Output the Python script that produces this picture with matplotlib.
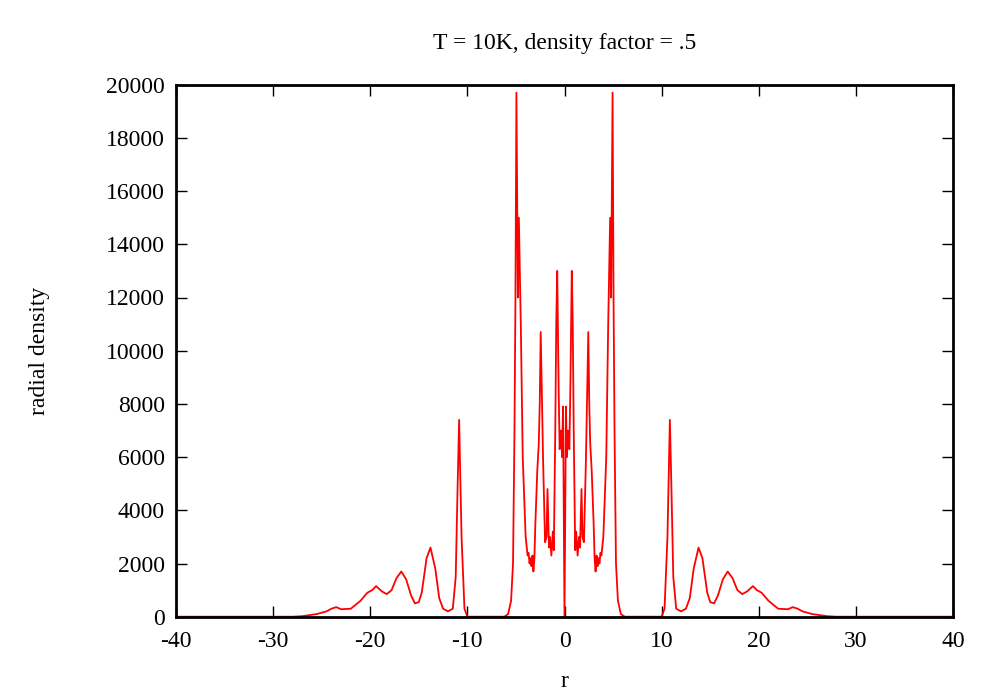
import numpy as np
import matplotlib
matplotlib.use("Agg")
import matplotlib.pyplot as plt

plt.rcParams['font.family'] = ['Liberation Serif', 'DejaVu Serif']
plt.rcParams['axes.unicode_minus'] = False

# right half of the symmetric radial density profile (r, density)
r_half = [0.0, 0.15, 0.25, 0.35, 0.5, 0.6, 0.75, 0.85, 0.95, 1.05, 1.1, 1.2, 1.35, 1.5, 1.6,
          1.75, 1.85, 2.0, 2.2, 2.3, 2.45, 2.55, 2.65, 2.8, 3.0, 3.1, 3.2, 3.3, 3.4, 3.5, 3.6,
          3.7, 3.8, 4.0, 4.3, 4.5, 4.7, 4.8, 4.95, 5.05, 5.15, 5.3, 5.5, 5.8, 6.2,
          10.0, 10.3, 10.6, 10.85, 11.0, 11.2, 11.5, 12.0, 12.5, 12.9, 13.3, 13.8, 14.2, 14.7,
          15.0, 15.4, 15.8, 16.3, 16.8, 17.3, 17.8, 18.3, 18.8, 19.4, 19.8, 20.3, 21.0, 22.0,
          23.0, 23.5, 24.0, 24.5, 25.5, 27.0, 28.0, 40.0]
d_half = [0, 7900, 6000, 7000, 6300, 8500, 13000, 11000, 7000, 4000, 2500, 3200, 2300, 3000, 2600,
          4800, 3000, 2800, 5800, 7800, 10700, 8000, 6500, 5500, 3500, 2200, 1700, 2300, 1900, 2200, 2000,
          2400, 2300, 3000, 6000, 11000, 15000, 12000, 19700, 12000, 7000, 2000, 600, 100, 0,
          0, 300, 3000, 7400, 5000, 1500, 300, 200, 300, 700, 1800, 2600, 2200, 900,
          550, 500, 800, 1400, 1700, 1450, 1000, 850, 950, 1150, 1000, 900, 600, 300,
          280, 360, 300, 200, 100, 20, 0, 0]

r_arr = np.array(r_half)
d_arr = np.array(d_half)
r_full = np.concatenate([-r_arr[::-1], r_arr[1:]])
d_full = np.concatenate([d_arr[::-1], d_arr[1:]])

fig = plt.figure(figsize=(10, 7), dpi=100)
ax = fig.add_axes([0.176, 0.119, 0.777, 0.76])
ax.plot(r_full, d_full, color='red', lw=1.3)
ax.set_xlim(-40, 40)
ax.set_ylim(0, 20000)
ax.set_xticks(np.arange(-40, 41, 10))
ax.set_yticks(np.arange(0, 20001, 2000))
ax.tick_params(direction='in', top=True, right=True, labelsize=17, length=8, width=1)
ax.tick_params(axis='x', pad=10)
ax.tick_params(axis='y', pad=8)
for s in ax.spines.values():
    s.set_linewidth(2)
ax.set_title('T = 10K, density factor = .5', fontsize=17, pad=26)
ax.set_xlabel('r', fontsize=17, labelpad=14)
ax.set_ylabel('radial density', fontsize=17, labelpad=40)
fig.savefig('out.png')
